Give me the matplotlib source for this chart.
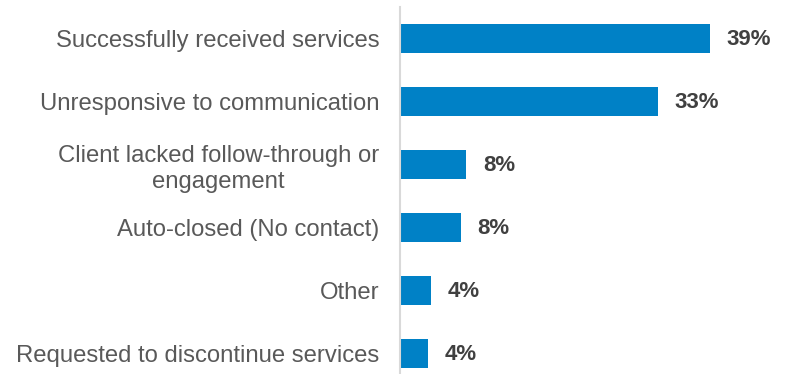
import matplotlib.pyplot as plt

# closure reasons, top to bottom
categories = [
    "Successfully received services",
    "Unresponsive to communication",
    "Client lacked follow-through or\nengagement",
    "Auto-closed (No contact)",
    "Other",
    "Requested to discontinue services",
]
values = [39.2, 32.7, 8.4, 7.7, 3.9, 3.6]
labels = ["39%", "33%", "8%", "8%", "4%", "4%"]

plt.rcParams['font.family'] = ['Liberation Sans', 'DejaVu Sans']

fig = plt.figure(figsize=(7.87, 3.74), dpi=100)
ax = fig.add_axes([400 / 787, 0, 387 / 787, 1 - 7 / 374])

pos = list(range(len(categories)))
ax.barh(pos, values, height=0.46, color="#0081C6")

for y, v, lab in zip(pos, values, labels):
    ax.annotate(lab, (v, y), xytext=(12, -1), textcoords="offset points",
                va="center", ha="left", fontsize=16, fontweight="bold",
                color="#404040")

ax.set_xlim(0, 49)
ax.set_ylim(5.33, -0.5)
ax.set_yticks(pos)
ax.set_yticklabels(categories, fontsize=17.2, color="#595959",
                   multialignment="center", linespacing=1.25)
ax.tick_params(axis="y", length=0, pad=15)
ax.set_xticks([])

for s in ["top", "right", "bottom"]:
    ax.spines[s].set_visible(False)
ax.spines["left"].set_color("#d9d9d9")
ax.spines["left"].set_linewidth(1.5)

fig.savefig("out.png", dpi=100)
